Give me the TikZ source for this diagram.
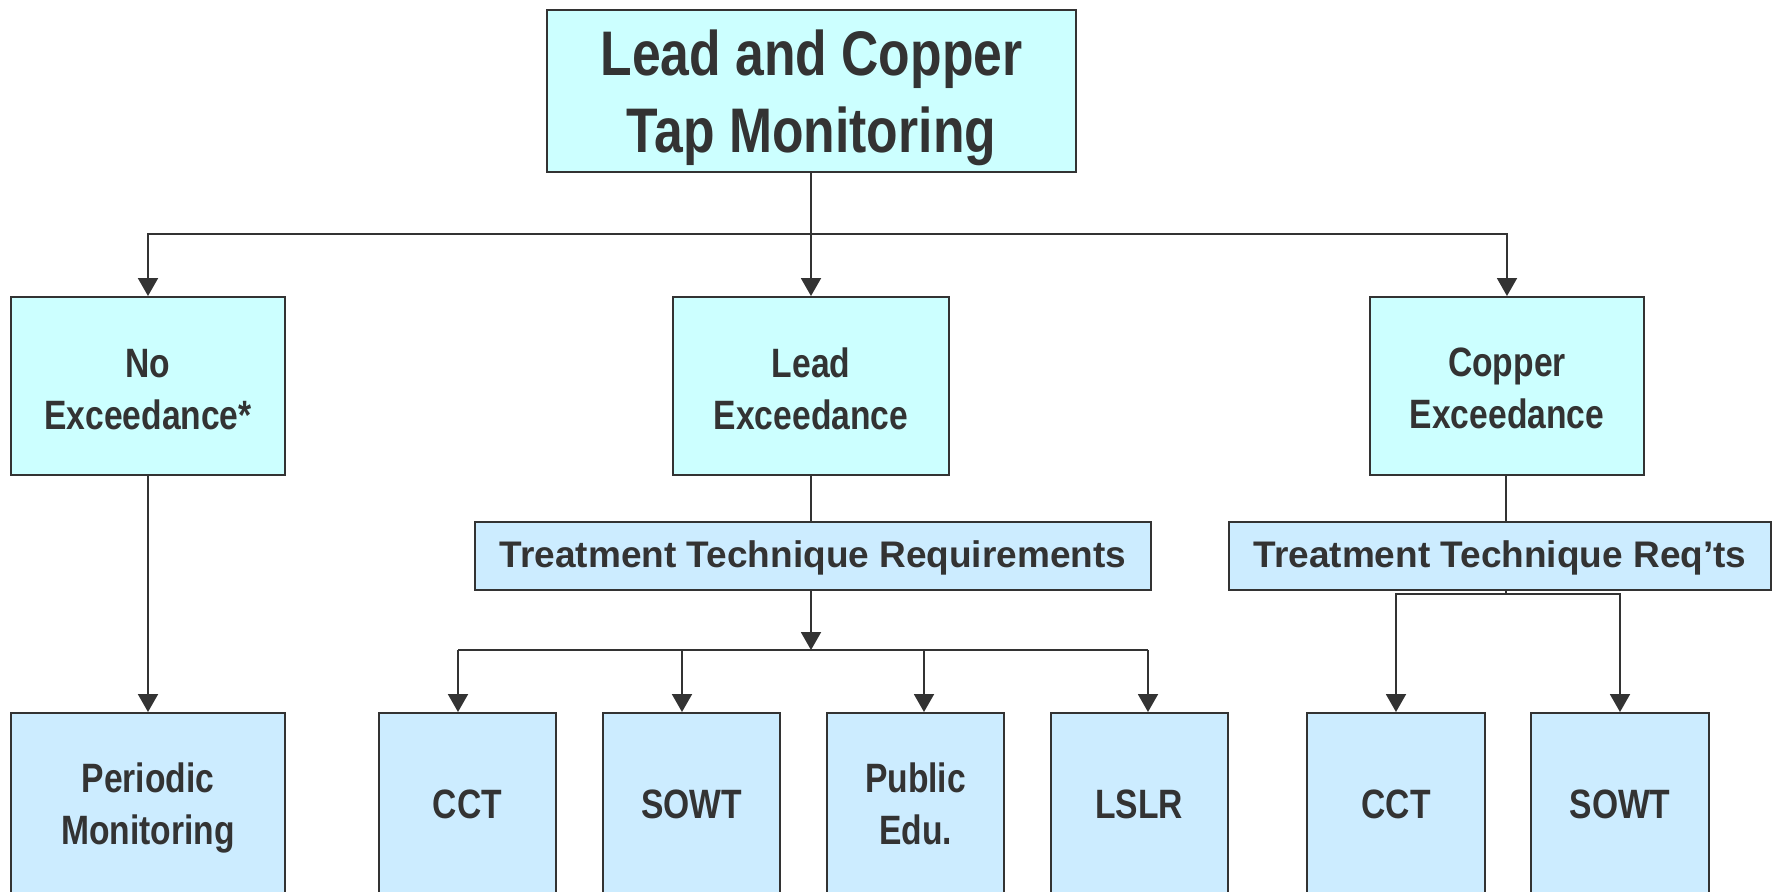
\documentclass[tikz,border=0pt]{standalone}
\usepackage{fontspec}
\setmainfont{Liberation Sans}
\newfontfamily\narrowfont{Liberation Sans}[FakeStretch=0.82]
\usetikzlibrary{arrows.meta}
\definecolor{ink}{HTML}{333333}
\definecolor{cyanfill}{HTML}{CCFFFF}
\definecolor{bluefill}{HTML}{CCECFF}
\tikzset{
  bx/.style={draw=ink, line width=1pt, inner sep=0pt},
  cyanbox/.style={bx, fill=cyanfill},
  bluebox/.style={bx, fill=bluefill},
  lbl/.style={inner sep=0pt, align=center, text=ink},
  titletext/.style={lbl, font=\narrowfont\bfseries\fontsize{31.5}{38.5}\selectfont},
  boxtext/.style={lbl, font=\narrowfont\bfseries\fontsize{20.5}{26}\selectfont},
  ttrtext/.style={lbl, font=\bfseries\fontsize{18.5}{22}\selectfont},
  conn/.style={draw=ink, line width=1pt},
  arr/.style={conn, -{Triangle[length=9pt,width=10pt]}},
}
\begin{document}
\begin{tikzpicture}[x=0.5pt,y=-0.5pt]
\useasboundingbox[fill=white] (0,0) rectangle (1773,891);
\begin{scope}
\clip (0,0) rectangle (1773,891);
% top
\node[cyanbox, minimum width=264.5pt, minimum height=81pt] (top) at (811.5,91) {};
\node[titletext, yshift=-3.5pt] (topt) at (top) {Lead and Copper\\Tap Monitoring};
% middle row
\node[cyanbox, minimum width=137pt, minimum height=89pt] (noex) at (148,386) {};
\node[boxtext, yshift=-1.7pt] (noext) at (noex) {No\\Exceedance*};
\node[cyanbox, minimum width=138pt, minimum height=89pt] (leadex) at (811,386) {};
\node[boxtext, yshift=-1.3pt] (leadext) at (leadex) {Lead\\Exceedance};
\node[cyanbox, minimum width=137pt, minimum height=89pt] (copex) at (1507,386) {};
\node[boxtext, yshift=-1.3pt] (copext) at (copex) {Copper\\Exceedance};
% treatment technique boxes
\node[bluebox, minimum width=338pt, minimum height=34pt] (ttr) at (813,556) {};
\node[ttrtext, yshift=-1.1pt] (ttrt) at (ttr) {Treatment Technique Requirements};
\node[bluebox, minimum width=271pt, minimum height=34pt] (ttrc) at (1500,556) {};
\node[ttrtext, yshift=-1.1pt] (ttrct) at (ttrc) {Treatment Technique Req’ts};
% bottom row
\node[bluebox, minimum width=137pt, minimum height=91pt] (per) at (148,804) {};
\node[boxtext, yshift=-2pt] (pert) at (per) {Periodic\\Monitoring};
\node[bluebox, minimum width=88.5pt, minimum height=91pt] (cct) at (467.5,804) {};
\node[boxtext] (cctt) at (cct) {CCT};
\node[bluebox, minimum width=88.5pt, minimum height=91pt] (sowt) at (691.5,804) {};
\node[boxtext] (sowtt) at (sowt) {SOWT};
\node[bluebox, minimum width=88.5pt, minimum height=91pt] (pub) at (915.5,804) {};
\node[boxtext] (pubt) at (pub) {Public\\Edu.};
\node[bluebox, minimum width=88.5pt, minimum height=91pt] (lslr) at (1139,804) {};
\node[boxtext] (lslrt) at (lslr) {LSLR};
\node[bluebox, minimum width=89pt, minimum height=91pt] (cctc) at (1396,804) {};
\node[boxtext] (cctct) at (cctc) {CCT};
\node[bluebox, minimum width=89pt, minimum height=91pt] (sowtc) at (1620,804) {};
\node[boxtext] (sowtct) at (sowtc) {SOWT};
% connectors from top
\coordinate (j1) at (811,234);
\draw[conn] (top.south -| j1) -- (j1);
\draw[arr] (j1) -| (noex.north);
\draw[arr] (j1) -- (j1 |- leadex.north);
\draw[arr] (j1) -| (copex.north);
% no exceedance
\draw[arr] (noex.south) -- (per.north);
% lead branch
\draw[conn] (leadex.south -| j1) -- (j1 |- ttr.north);
\coordinate (j2) at (811,650);
\draw[arr] (j1 |- ttr.south) -- (j2);
\coordinate (h1) at (458,650);
\coordinate (h2) at (682,650);
\coordinate (h3) at (924,650);
\coordinate (h4) at (1148,650);
\draw[conn] (h1) -- (h4);
\draw[arr] (h1) -- (h1 |- cct.north);
\draw[arr] (h2) -- (h2 |- sowt.north);
\draw[arr] (h3) -- (h3 |- pub.north);
\draw[arr] (h4) -- (h4 |- lslr.north);
% copper branch
\coordinate (j3) at (1506,594);
\draw[conn] (copex.south -| j3) -- (j3 |- ttrc.north);
\draw[conn] (j3 |- ttrc.south) -- (j3);
\draw[arr] (j3) -| (cctc.north);
\draw[arr] (j3) -| (sowtc.north);
\end{scope}
\end{tikzpicture}
\end{document}
